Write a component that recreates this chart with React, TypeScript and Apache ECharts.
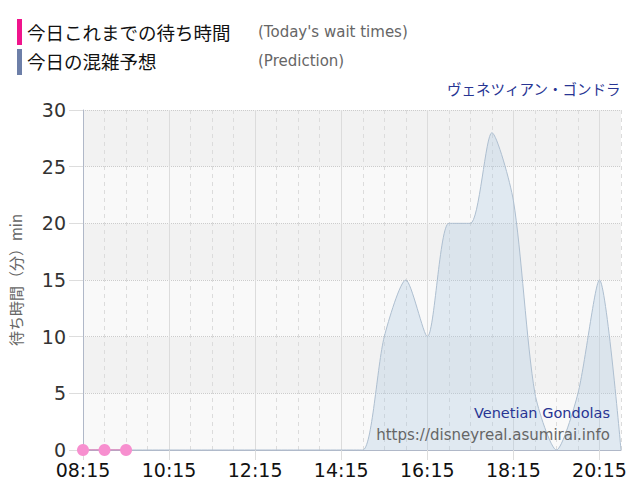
import React, { useEffect, useRef } from 'react';
import * as echarts from 'echarts';

// 30分刻みの時刻
const times = [
    '08:15', '08:45', '09:15', '09:45', '10:15', '10:45', '11:15', '11:45',
    '12:15', '12:45', '13:15', '13:45', '14:15', '14:45', '15:15', '15:45',
    '16:15', '16:45', '17:15', '17:45', '18:15', '18:45', '19:15', '19:45',
    '20:15', '20:45',
];

// 今日の混雑予想
const prediction = [
    0, 0, 0, 0, 0, 0, 0, 0, 0, 0, 0, 0, 0, 0, 10, 15,
    10, 20, 20, 28, 22, 5, 0, 5, 15, 0,
];

// 今日これまでの待ち時間
const actual = [0, 0, 0];

const yTicks = { min: 0, max: 30, interval: 5 };

const FONT = '"DejaVu Sans", Verdana, sans-serif';
const JP_FONT = '"Noto Sans CJK JP", "DejaVu Sans", sans-serif';

const App: React.FC = () => {
    const chartRef = useRef<HTMLDivElement>(null);

    useEffect(() => {
        if (!chartRef.current) return;
        const chart = echarts.init(chartRef.current, undefined, { renderer: 'svg' });

        chart.setOption({
            animation: false,
            grid: { left: 80, right: 19, top: 110, bottom: 50 },
            graphic: [
                { type: 'rect', shape: { x: 17, y: 19, width: 5, height: 26 }, style: { fill: '#f0148c' } },
                { type: 'rect', shape: { x: 17, y: 49, width: 5, height: 26 }, style: { fill: '#6d7fa8' } },
                {
                    type: 'text', x: 27, y: 32,
                    style: { text: '今日これまでの待ち時間', font: `18.5px ${JP_FONT}`, fill: '#111', verticalAlign: 'middle' },
                },
                {
                    type: 'text', x: 258, y: 32,
                    style: { text: "(Today's wait times)", font: `15px ${FONT}`, fill: '#666', verticalAlign: 'middle' },
                },
                {
                    type: 'text', x: 27, y: 61,
                    style: { text: '今日の混雑予想', font: `18.5px ${JP_FONT}`, fill: '#111', verticalAlign: 'middle' },
                },
                {
                    type: 'text', x: 258, y: 61,
                    style: { text: '(Prediction)', font: `15px ${FONT}`, fill: '#666', verticalAlign: 'middle' },
                },
                {
                    type: 'text', right: 19, top: 81,
                    style: { text: 'ヴェネツィアン・ゴンドラ', font: `14.5px ${JP_FONT}`, fill: '#283593' },
                },
                {
                    type: 'text', right: 30, top: 405, z: 100,
                    style: { text: 'Venetian Gondolas', font: `14.5px ${FONT}`, fill: '#283593' },
                },
                {
                    type: 'text', right: 30, top: 427, z: 100,
                    style: { text: 'https://disneyreal.asumirai.info', font: `15px ${FONT}`, fill: '#666' },
                },
            ],
            xAxis: [
                {
                    type: 'category',
                    data: times,
                    boundaryGap: false,
                    axisLine: { lineStyle: { color: '#b0b8c8' } },
                    axisTick: { show: true, interval: 3, length: 10, lineStyle: { color: '#ddd' } },
                    axisLabel: { interval: 3, fontSize: 19, color: '#111', fontFamily: FONT, margin: 10 },
                    splitLine: { show: true, interval: 3, lineStyle: { color: '#dcdcdc', type: 'solid' } },
                },
                {
                    type: 'category',
                    data: times,
                    boundaryGap: false,
                    position: 'bottom',
                    axisLine: { show: false },
                    axisTick: { show: false },
                    axisLabel: { show: false },
                    splitLine: { show: true, interval: 0, lineStyle: { color: '#dcdcdc', type: [4, 4] } },
                },
            ],
            yAxis: {
                type: 'value',
                min: yTicks.min,
                max: yTicks.max,
                interval: yTicks.interval,
                name: '待ち時間（分）min',
                nameLocation: 'middle',
                nameRotate: 90,
                nameGap: 60,
                nameTextStyle: { fontSize: 15, color: '#666', fontFamily: JP_FONT },
                axisLine: { show: true, lineStyle: { color: '#b0b8c8' } },
                axisTick: { show: true, length: 14, lineStyle: { color: '#ddd' } },
                axisLabel: { fontSize: 19, color: '#333', fontFamily: FONT, margin: 17 },
                splitLine: { lineStyle: { color: '#ccc', type: 'dotted' } },
                splitArea: { show: true, areaStyle: { color: ['#f9f9f9', '#f2f2f2'] } },
            },
            series: [
                {
                    name: '今日の混雑予想',
                    type: 'line',
                    data: prediction,
                    smooth: 0.25,
                    showSymbol: false,
                    lineStyle: { width: 1, color: '#aebfd0' },
                    areaStyle: { color: 'rgba(170,198,222,0.45)' },
                    z: 2,
                },
                {
                    name: '今日これまでの待ち時間',
                    type: 'line',
                    data: actual,
                    symbol: 'circle',
                    symbolSize: 12,
                    itemStyle: { color: '#f78fcf' },
                    lineStyle: { width: 1, color: '#e05aa8' },
                    z: 3,
                },
            ],
        });

        return () => chart.dispose();
    }, []);

    return <div ref={chartRef} style={{ width: 640, height: 500, margin: -8 }} />;
};

export default App;
